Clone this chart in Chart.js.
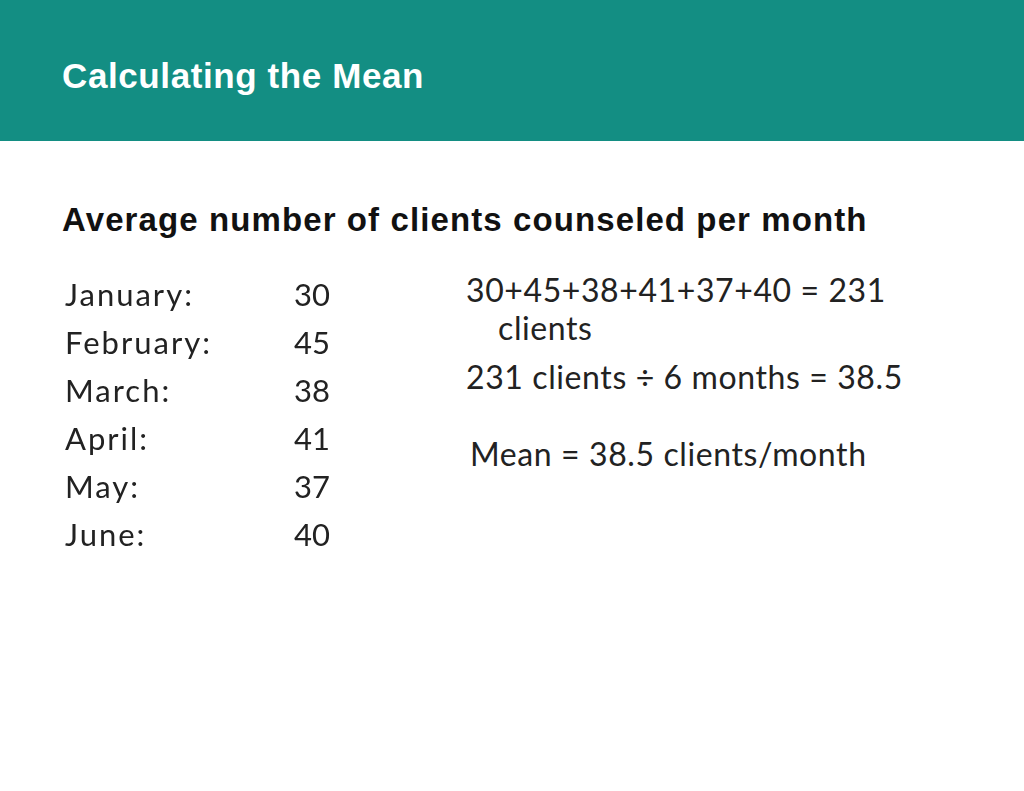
<!DOCTYPE html>
<html>
<head>
<meta charset="utf-8">
<script src="https://cdn.jsdelivr.net/npm/chart.js@4"></script>
<style>
  body { margin: 0; width: 1024px; height: 791px; background: #fff; position: relative; overflow: hidden; font-family: "Liberation Sans", Arial, sans-serif; }
  .header { position: absolute; left: 0; top: 0; width: 1024px; height: 141px; background: #138e83; }
  .header h1 { position: absolute; left: 62px; top: 56px; margin: 0; color: #fff; font-size: 35px; font-weight: bold; letter-spacing: 0.6px; }
  .subtitle { position: absolute; left: 62px; top: 201px; margin: 0; font-size: 33px; font-weight: bold; color: #111; letter-spacing: 1.1px; }
  .calc { position: absolute; left: 466px; font-family: Lato, "DejaVu Sans", sans-serif; font-size: 32px; letter-spacing: 0.6px; color: #222; white-space: nowrap; }
  #wrap { position: absolute; left: 65px; top: 272px; width: 265px; height: 288px; }
</style>
</head>
<body>
<div class="header"><h1>Calculating the Mean</h1></div>
<div class="subtitle">Average number of clients counseled per month</div>
<div class="calc" style="top:270px">30+45+38+41+37+40 = 231</div>
<div class="calc" style="top:308px; left:498px">clients</div>
<div class="calc" style="top:357px">231 clients ÷ 6 months = 38.5</div>
<div class="calc" style="top:434px; left:470px">Mean = 38.5 clients/month</div>
<div id="wrap"><canvas id="tbl"></canvas></div>
<script>
const months = ['January:', 'February:', 'March:', 'April:', 'May:', 'June:'];
const clients = [30, 45, 38, 41, 37, 40];

// draws the month list and counts at positions given by the chart scales
const tableText = {
    id: 'tableText',
    afterDatasetsDraw(chart) {
        const ctx = chart.ctx;
        const x = chart.scales.x;
        const y = chart.scales.y;
        ctx.save();
        ctx.font = '31px Lato, "DejaVu Sans", sans-serif';
        ctx.fillStyle = '#222';
        ctx.textBaseline = 'middle';
        months.forEach((m, i) => {
            const py = y.getPixelForValue(i);
            ctx.textAlign = 'left';
            ctx.letterSpacing = '2px';
            ctx.fillText(m, chart.chartArea.left, py);
            ctx.textAlign = 'right';
            ctx.letterSpacing = '0px';
            ctx.fillText(String(clients[i]), x.getPixelForValue(1), py);
        });
        ctx.restore();
    }
};

new Chart(document.getElementById('tbl'), {
    type: 'scatter',
    data: {
        datasets: [{
            data: clients.map((v, i) => ({ x: 1, y: i })),
            pointRadius: 0
        }]
    },
    options: {
        responsive: true,
        maintainAspectRatio: false,
        animation: false,
        layout: { padding: 0 },
        plugins: { legend: { display: false }, tooltip: { enabled: false } },
        scales: {
            x: { type: 'linear', min: 0, max: 1, display: false },
            y: { type: 'linear', min: -0.5, max: 5.5, reverse: true, display: false }
        }
    },
    plugins: [tableText]
});
</script>
</body>
</html>
